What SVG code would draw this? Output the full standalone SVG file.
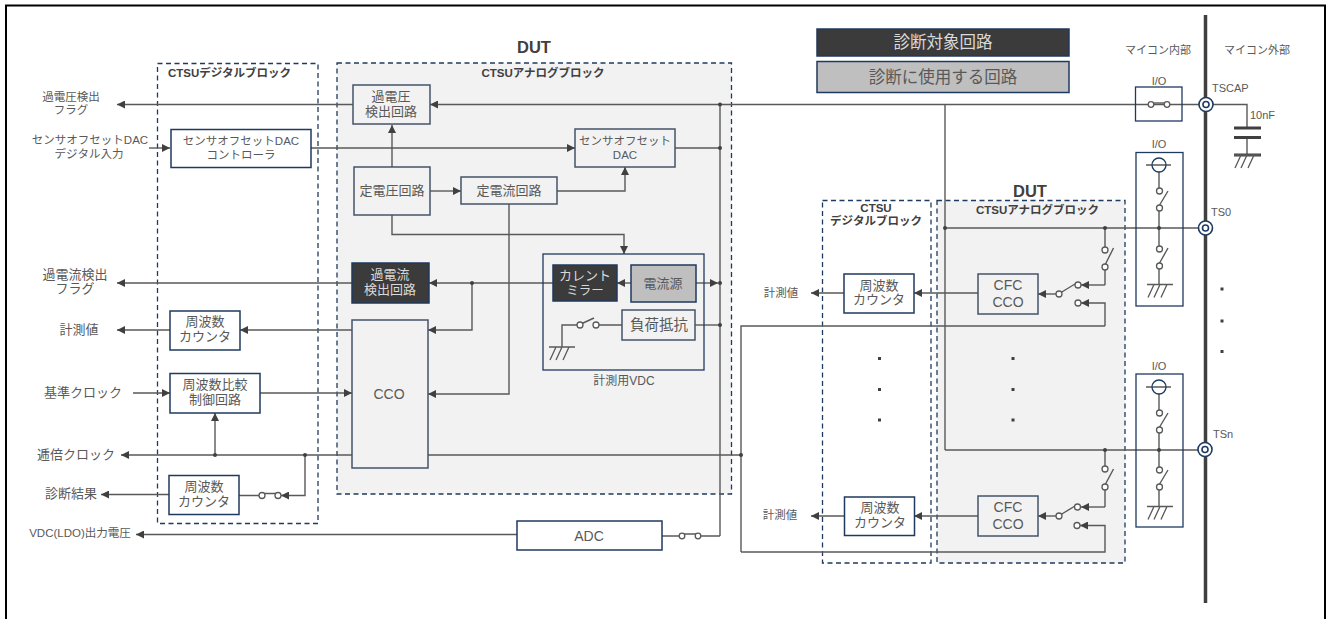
<svg xmlns="http://www.w3.org/2000/svg" width="1328" height="619" viewBox="0 0 1328 619">
<style>
text{font-family:"Liberation Sans","Noto Sans CJK JP",sans-serif;fill:#595959;text-anchor:middle;font-size:13px}
.b{font-weight:bold;fill:#404040;font-size:11.500px}
.s{font-size:11.500px}
.w{fill:#d9d9d9}
.l{text-anchor:start}
.d{font-weight:bold;font-size:16.500px;fill:#404040}
.lg{font-size:16.500px}
.x{font-size:11px}
.blk{fill:none;stroke:#1f3a5f;stroke-width:1.3;stroke-dasharray:5 3.5}
.ana{fill:#f2f2f2}
.box{fill:#fff;stroke:#1f3a5f;stroke-width:1.5}
.gb{fill:#f2f2f2;stroke:#44546a;stroke-width:1.5}
.dk{fill:#3b3b3b;stroke:#1f3a5f;stroke-width:1.5}
.gr{fill:#bfbfbf;stroke:#1f3a5f;stroke-width:1.5}
.no{fill:none;stroke:#1f3a5f;stroke-width:1.3}
.c path{fill:none;stroke:#595959;stroke-width:1.4}
.c path.bar{stroke:#404040;stroke-width:3.500}
.c path.pl{stroke:#404040;stroke-width:3}
.a{marker-end:url(#ah)}
.j{fill:#404040;stroke:none}
.ct{fill:#fff;stroke:#595959;stroke-width:1.3}
.t1{fill:#fff;stroke:#1f3a5f;stroke-width:1.6}
</style>
<defs>
<marker id="ah" viewBox="0 0 8 8" refX="8" refY="4" markerWidth="8" markerHeight="8" markerUnits="userSpaceOnUse" orient="auto"><path d="M0 0L8 4L0 8Z" fill="#404040" stroke="none"/></marker>
<g id="gnd"><path d="M-13 0H13M-6 0L-12 13M0 0L-6 13M7 0L1 13" fill="none" stroke="#595959" stroke-width="1.3"/></g>
</defs>
<path id="frame" d="M6 619V5.500H1325V619" fill="none" stroke="#000" stroke-width="2"/>

<g id="block-digital"><rect class="blk" x="157.500" y="63.500" width="160.500" height="460"/><text class="b l" x="168" y="77">CTSUデジタルブロック</text></g>
<g id="block-analog"><rect class="ana" x="337" y="63" width="394.500" height="431"/><rect class="blk" x="337" y="63" width="394.500" height="431"/><text class="b" x="543" y="77">CTSUアナログブロック</text><text class="d" x="534" y="53">DUT</text><text x="624" y="385" style="font-size:12px">計測用VDC</text></g>
<g id="block-digital2"><rect class="blk" x="822.500" y="200.500" width="108.500" height="362.500"/><text class="b" x="876" y="212">CTSU</text><text class="b" x="876" y="225">デジタルブロック</text></g>
<g id="block-analog2"><rect class="ana" x="937" y="200.500" width="188" height="362.500"/><rect class="blk" x="937" y="200.500" width="188" height="362.500"/><text class="b" x="1037.500" y="214">CTSUアナログブロック</text><text class="d" x="1030" y="197">DUT</text></g>

<g id="legend"><rect class="dk" x="817" y="29" width="252" height="27"/><text class="w lg" x="943" y="48">診断対象回路</text><rect class="gr" x="817" y="61.500" width="252" height="31"/><text class="lg" x="943" y="83">診断に使用する回路</text></g>

<g id="connectors" class="c">
<path class="a" d="M353 104.500H117"/>
<path class="a" d="M1205 104.500H430"/>
<path d="M720 104.500V536"/>
<path d="M945 104.500V450"/>
<path class="a" d="M149 148H170"/>
<path class="a" d="M311 148H575"/>
<path d="M675 148H720"/>
<path class="a" d="M392 167V125"/>
<path class="a" d="M430 191H461"/>
<path class="a" d="M557 191H625V167"/>
<path class="a" d="M392 215V234.500H624V254"/>
<path class="a" d="M509 204V394H428"/>
<path class="a" d="M553 283H429"/>
<path class="a" d="M472 283V330H428"/>
<path class="a" d="M631 283H617"/>
<path class="a" d="M696 283H718"/>
<path d="M695 325H720"/>
<path d="M622 325H596M580 325H562V347"/>
<path d="M582 323.500L594 318"/>
<path class="a" d="M352 283H117"/>
<path class="a" d="M352 330H240"/>
<path class="a" d="M170 330H117"/>
<path class="a" d="M133 393H170"/>
<path class="a" d="M260 393H352"/>
<path class="a" d="M215 455V413"/>
<path class="a" d="M352 455H121"/>
<path class="a" d="M305 455V495.500H281"/>
<path d="M239 495.500H259M262 493.500H278"/>
<path class="a" d="M169 494.500H101"/>
<path class="a" d="M517 534.500H136"/>
<path d="M662 536H679M682 534H698M701 536H720"/>
<path d="M428 455H741"/>
<path class="a" d="M1105 326V303H1081"/>
<path d="M741 552V326H1105"/>
<path class="a" d="M741 552H1105V525.500H1080"/>
<path d="M945 228H1205M945 450H1205"/>
<path class="a" d="M978 293H914"/>
<path class="a" d="M844 293H811"/>
<path class="a" d="M978 516H914"/>
<path class="a" d="M844 516H811"/>
<path d="M1105 228V247M1105 270V285M1105 450V466M1105 490V507"/>
<path class="a" d="M1105 285H1081"/>
<path class="a" d="M1105 507H1081"/>
<path class="a" d="M1056 294H1038"/>
<path class="a" d="M1056 516H1038"/>
<path d="M1105 265L1113.500 248M1105 485L1113.500 469M1061 292.500L1075 284M1061 514.500L1075 506"/>
<path d="M1205 104.500H1247V128M1247 137V155"/>
<path d="M1159 172V188M1159 211V246M1159 269V284M1159 394V410M1159 433V467M1159 490V506"/>
<path d="M1159 206L1168 191M1159 264L1168 248M1159 428L1168 413M1159 485L1168 470"/>
<path d="M1146 165H1171M1146 387H1171"/>
<path d="M1154 103H1164"/>
<path class="bar" d="M1205.500 15V603"/>
<path class="pl" d="M1234 128H1261M1234 137.500H1261M1234 155H1261"/>
<use href="#gnd" x="562" y="347"/>
<use href="#gnd" x="1247" y="155"/>
<use href="#gnd" x="1160" y="284.500"/>
<use href="#gnd" x="1160" y="506.500"/>
<circle class="j" cx="720" cy="104.500" r="2"/><circle class="j" cx="720" cy="148" r="2"/><circle class="j" cx="720" cy="283" r="2"/><circle class="j" cx="720" cy="325" r="2"/>
<circle class="j" cx="472" cy="283" r="2"/><circle class="j" cx="215" cy="455" r="2"/><circle class="j" cx="305" cy="455" r="2"/><circle class="j" cx="741" cy="455" r="2"/>
<circle class="j" cx="945" cy="228" r="2"/><circle class="j" cx="1105" cy="228" r="2"/><circle class="j" cx="1105" cy="450" r="2"/><circle class="j" cx="1159" cy="228" r="2"/><circle class="j" cx="1159" cy="450" r="2"/>
<circle class="ct" cx="580" cy="325" r="3"/><circle class="ct" cx="596" cy="325" r="3"/>
<circle class="ct" cx="262" cy="495.500" r="3"/><circle class="ct" cx="278" cy="495.500" r="3"/>
<circle class="ct" cx="682" cy="536" r="2.800"/><circle class="ct" cx="698" cy="536" r="2.800"/>
<circle class="ct" cx="1105" cy="250" r="3"/><circle class="ct" cx="1105" cy="267" r="3"/><circle class="ct" cx="1105" cy="469" r="3"/><circle class="ct" cx="1105" cy="487" r="3"/>
<circle class="ct" cx="1078" cy="285" r="3"/><circle class="ct" cx="1059" cy="294" r="3"/><circle class="ct" cx="1078" cy="303" r="3"/><circle class="ct" cx="1077.500" cy="507" r="3"/><circle class="ct" cx="1059" cy="516" r="3"/><circle class="ct" cx="1077" cy="525.500" r="3"/>
<circle class="ct" cx="1151" cy="104.500" r="2.800"/><circle class="ct" cx="1167" cy="104.500" r="2.800"/>
<circle class="ct" cx="1159.500" cy="191" r="3"/><circle class="ct" cx="1159.500" cy="208" r="3"/><circle class="ct" cx="1159.500" cy="249" r="3"/><circle class="ct" cx="1159.500" cy="266" r="3"/>
<circle class="ct" cx="1159.500" cy="413" r="3"/><circle class="ct" cx="1159.500" cy="430" r="3"/><circle class="ct" cx="1159.500" cy="470" r="3"/><circle class="ct" cx="1159.500" cy="487" r="3"/>
</g>

<g id="node-ovp"><rect class="gb" x="353" y="85" width="77" height="39"/><text x="391" y="101">過電圧</text><text x="391" y="116">検出回路</text></g>
<g id="node-dac-ctrl"><rect class="box" x="171" y="129.500" width="140" height="38"/><text class="s" x="241" y="145">センサオフセットDAC</text><text class="s" x="241" y="159">コントローラ</text></g>
<g id="node-cv"><rect class="gb" x="354" y="167" width="76" height="48"/><text x="392" y="195">定電圧回路</text></g>
<g id="node-cc"><rect class="gb" x="461" y="177" width="96" height="27"/><text x="509" y="195">定電流回路</text></g>
<g id="node-dac"><rect class="gb" x="575" y="129" width="100" height="38"/><text class="s" x="625" y="145">センサオフセット</text><text class="s" x="625" y="159">DAC</text></g>
<g id="node-vdc"><rect class="no" x="543" y="254" width="161" height="116"/></g>
<g id="node-mirror"><rect class="dk" x="553" y="265" width="64" height="36"/><text class="w" x="585" y="280">カレント</text><text class="w" x="585" y="295" style="font-size:12.500px">ミラー</text></g>
<g id="node-source"><rect class="gr" x="631" y="265" width="65" height="37"/><text x="663" y="288">電流源</text></g>
<g id="node-load"><rect class="gb" x="622" y="310" width="73" height="30"/><text x="659" y="330" style="font-size:14.500px">負荷抵抗</text></g>
<g id="node-ocp"><rect class="dk" x="352" y="263" width="77" height="40"/><text class="w" x="390" y="279">過電流</text><text class="w" x="390" y="294">検出回路</text></g>
<g id="node-cco"><rect class="gb" x="352" y="320" width="76" height="148"/><text x="389" y="399" style="font-size:14px">CCO</text></g>
<g id="node-counter1"><rect class="box" x="170" y="311" width="70" height="39"/><text x="205" y="326">周波数</text><text x="205" y="341">カウンタ</text></g>
<g id="node-compare"><rect class="box" x="170" y="373.500" width="90" height="39.500"/><text x="215" y="389">周波数比較</text><text x="215" y="404">制御回路</text></g>
<g id="node-counter2"><rect class="box" x="169" y="475.500" width="70" height="39"/><text x="204" y="491">周波数</text><text x="204" y="506">カウンタ</text></g>
<g id="node-adc"><rect class="box" x="517" y="521" width="145" height="29"/><text x="589" y="541" style="font-size:14px">ADC</text></g>
<g id="node-counter3"><rect class="box" x="844" y="274" width="70" height="39"/><text x="879" y="290">周波数</text><text x="879" y="304">カウンタ</text></g>
<g id="node-counter4"><rect class="box" x="844.500" y="497" width="70" height="38.500"/><text x="880" y="512">周波数</text><text x="880" y="527">カウンタ</text></g>
<g id="node-cfc1"><rect class="gb" x="978" y="274" width="60" height="40"/><text x="1008" y="290" style="font-size:14px">CFC</text><text x="1008" y="307" style="font-size:14px">CCO</text></g>
<g id="node-cfc2"><rect class="gb" x="978" y="496" width="60" height="40"/><text x="1008" y="512" style="font-size:14px">CFC</text><text x="1008" y="529" style="font-size:14px">CCO</text></g>
<g id="node-io1"><rect class="no" x="1135.500" y="87" width="46.500" height="34"/></g>
<g id="node-io2"><rect class="no" x="1136" y="152.500" width="47" height="153.500"/><circle class="no" cx="1159" cy="165" r="7"/></g>
<g id="node-io3"><rect class="no" x="1136" y="374" width="47" height="153"/><circle class="no" cx="1159" cy="387" r="7"/></g>
<g id="node-tscap"><circle class="t1" cx="1206" cy="104.500" r="7"/><circle class="t1" cx="1206" cy="104.500" r="3"/></g>
<g id="node-ts0"><circle class="t1" cx="1205.500" cy="228" r="7"/><circle class="t1" cx="1205.500" cy="228" r="3"/></g>
<g id="node-tsn"><circle class="t1" cx="1205" cy="449.500" r="7"/><circle class="t1" cx="1205" cy="449.500" r="3"/></g>

<g id="labels">
<text class="s" x="71" y="101">過電圧検出</text><text class="s" x="71" y="114">フラグ</text>
<text class="s" x="90" y="144">センサオフセットDAC</text><text class="s" x="89" y="158">デジタル入力</text>
<text x="75" y="279">過電流検出</text><text x="75" y="293">フラグ</text>
<text x="79" y="334">計測値</text><text x="83" y="397">基準クロック</text><text x="76" y="459">逓倍クロック</text><text x="71" y="498">診断結果</text>
<text class="s" x="80" y="537">VDC(LDO)出力電圧</text>
<text class="s" x="781" y="297">計測値</text><text class="s" x="780" y="519">計測値</text>
<text class="x" x="1158" y="54">マイコン内部</text><text class="x" x="1257" y="54">マイコン外部</text>
<text class="x" x="1159" y="85">I/O</text><text class="x" x="1159" y="148">I/O</text><text class="x" x="1159" y="370">I/O</text>
<text class="l x" x="1212" y="92">TSCAP</text><text class="l x" x="1250" y="119">10nF</text><text class="l x" x="1211" y="216">TS0</text><text class="l x" x="1213" y="438">TSn</text>
</g>
<g id="dots" fill="#404040">
<rect x="1220.500" y="287.500" width="3" height="3"/><rect x="1220.500" y="319.500" width="3" height="3"/><rect x="1220.500" y="350" width="3" height="3"/>
<rect x="1011.500" y="357" width="3" height="3"/><rect x="1011.500" y="388" width="3" height="3"/><rect x="1011.500" y="418.500" width="3" height="3"/>
<rect x="878" y="357" width="3" height="3"/><rect x="878" y="388" width="3" height="3"/><rect x="878" y="418.500" width="3" height="3"/>
</g>
</svg>
